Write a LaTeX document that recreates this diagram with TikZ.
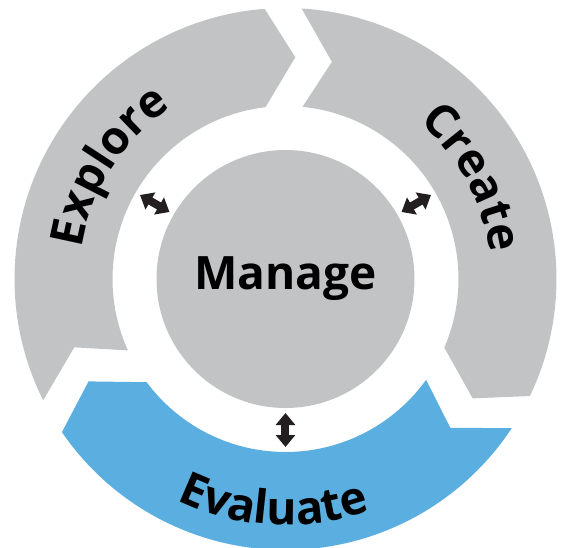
\documentclass[tikz,border=0pt]{standalone}
\usepackage{fontspec}
\setmainfont{Open Sans}
\usepackage{tikz}
\usetikzlibrary{arrows.meta, decorations.text}
\usepackage{xcolor}

\definecolor{CycleGray}{HTML}{C2C3C5}
\definecolor{CycleBlue}{HTML}{5BAFE0}
\definecolor{CycleBlack}{HTML}{231F20}

\newcommand{\stagefont}{\fontsize{46}{50}\selectfont\bfseries}

\tikzset{
    stage/.style={
        fill=#1,
        draw=none
    },
    stage/.default=CycleGray,
    hub/.style={
        circle,
        fill=CycleGray,
        minimum size=258pt,
        inner sep=0pt,
        text=black,
        font=\stagefont
    },
    link/.style={
        {Triangle[length=12pt,width=19pt]}-{Triangle[length=12pt,width=19pt]},
        line width=8pt,
        CycleBlack
    },
    stagetext/.style={
        decorate,
        decoration={
            text along path,
            text align=center,
            text={|\stagefont|#1}
        }
    }
}

\begin{document}
\begin{tikzpicture}[x=1pt, y=1pt]
    \clip (-285.5,-268) rectangle (277.5,279);

    % three stages of the ring, each runs clockwise: notch first, point last
    \fill[stage] (206.59:271) arc[start angle=206.59, end angle=94.41, radius=271]
        -- (87.47:222) -- (96.63:173) arc[start angle=96.63, end angle=204.37, radius=173]
        -- (197.93:222) -- cycle;
    \fill[stage] (86.59:271) arc[start angle=86.59, end angle=-25.59, radius=271]
        -- (-32.53:222) -- (-23.37:173) arc[start angle=-23.37, end angle=84.37, radius=173]
        -- (77.93:222) -- cycle;
    \fill[stage=CycleBlue] (-33.41:271) arc[start angle=-33.41, end angle=-145.59, radius=271]
        -- (-152.53:222) -- (-143.37:173) arc[start angle=-143.37, end angle=-35.63, radius=173]
        -- (-42.07:222) -- cycle;

    \node[hub] (manage) at (0,0) {Manage};

    % stage names follow the ring
    \path[stagetext=Explore] (207.5:206) arc[start angle=207.5, end angle=87.5, radius=206];
    \path[stagetext=Create] (88.5:206) arc[start angle=88.5, end angle=-31.5, radius=206];
    \path[stagetext=Evaluate] (207:246) arc[start angle=207, end angle=327, radius=246];

    % links between the hub and each stage
    \coordinate (explore-in) at (150:134);
    \coordinate (explore-out) at (150:168);
    \coordinate (create-in) at (30:134);
    \coordinate (create-out) at (30:168);
    \coordinate (evaluate-in) at (270:134);
    \coordinate (evaluate-out) at (270:168);
    \draw[link] (explore-out) -- (explore-in);
    \draw[link] (create-out) -- (create-in);
    \draw[link] (evaluate-out) -- (evaluate-in);
\end{tikzpicture}
\end{document}
